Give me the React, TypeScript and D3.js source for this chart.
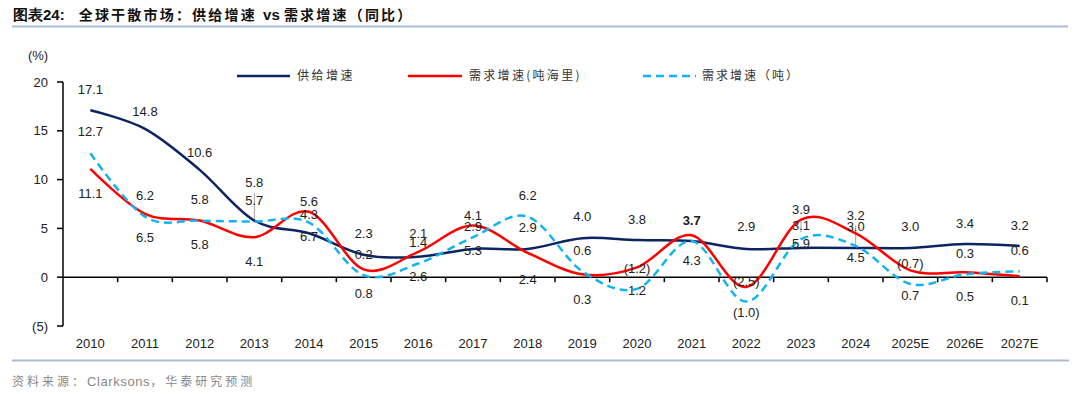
import React from "react";
import * as d3 from "d3";

const categories = ["2010","2011","2012","2013","2014","2015","2016","2017","2018","2019","2020","2021","2022","2023","2024","2025E","2026E","2027E"];
const supply = [17.1, 15.2, 11.0, 5.8, 4.5, 2.3, 2.1, 2.9, 2.9, 4.0, 3.8, 3.7, 2.9, 3.0, 3.0, 3.0, 3.4, 3.2];
const demandTonMile = [11.1, 6.5, 5.8, 4.1, 6.7, 0.8, 2.6, 5.3, 2.5, 0.3, 1.0, 4.3, -1.0, 5.9, 4.5, 0.7, 0.5, 0.1];
const demandTon = [12.7, 6.2, 5.8, 5.7, 5.6, 0.2, 1.4, 4.1, 6.2, 0.6, -1.2, 3.7, -2.5, 3.9, 3.2, -0.7, 0.3, 0.6];
const yTicks = [-5, 0, 5, 10, 15, 20];
const yTickLabels = ["(5)", "0", "5", "10", "15", "20"];
const seriesNames = ["供给增速", "需求增速(吨海里)", "需求增速（吨）"];

// data labels: [category index, text, anchor value (in % units), bold]
const labelCat = [0,1,0,2,0,1,2,3,3,4,4,1,2,3,4,5,5,5,6,6,6,7,7,7,8,8,8,9,9,9,10,10,10,11,11,12,12,12,13,13,13,14,14,14,15,15,15,16,16,16,17,17,17];
const labelText = ["17.1","14.8","12.7","10.6","11.1","6.2","5.8","5.8","5.7","5.6","4.3","6.5","5.8","4.1","6.7","2.3","0.2","0.8","2.1","1.4","2.6","4.1","2.9","5.3","6.2","2.9","2.4","4.0","0.6","0.3","3.8","(1.2)","1.2","3.7","4.3","2.9","(2.5)","(1.0)","3.9","3.1","5.9","3.2","3.0","4.5","3.0","(0.7)","0.7","3.4","0.3","0.5","3.2","0.6","0.1"];
const labelAt = [19.26,17.0,14.9,12.74,8.57,8.33,7.96,9.66,7.82,7.72,6.42,4.03,3.38,1.57,4.13,4.48,2.36,-1.67,4.48,3.56,0.03,6.28,5.15,2.77,8.33,5.09,-0.2,6.18,2.77,-2.25,5.94,0.89,-1.4,5.84,1.67,5.15,-0.48,-3.62,6.94,5.33,3.45,6.35,5.15,2.02,5.23,1.4,-1.84,5.5,2.43,-2.0,5.33,2.77,-2.36];
const boldLabels = ["11|3.7"];
// leader lines: [category index, from value, to value]
const leaderCat = [3, 13, 14];
const leaderFrom = [8.6, 5.7, 5.3];
const leaderTo = [5.8, 4.6, 3.2];

const W = 1080, H = 394;
const NAVY = "#0c2461";
const RED = "#ff0000";
const CYAN = "#12b4f0";
const SANS = "'Liberation Sans', Arial, sans-serif";
const CJK = "'Noto Sans CJK SC', sans-serif";

export default function App() {
  const x = d3.scaleBand<string>().domain(categories).range([63, 1047]).paddingInner(0).paddingOuter(0);
  const y = d3.scaleLinear().domain([-5, 20]).range([326, 82]);
  const cx = (i: number) => (x(categories[i]) as number) + x.bandwidth() / 2;
  const line = d3.line<number>().x((_, i) => cx(i)).y((d) => y(d)).curve(d3.curveCardinal.tension(0));
  const y0 = y(0);
  const boundaries = categories.map((c) => (x(c) as number) + x.bandwidth());

  return (
    <svg width={W} height={H} style={{ position: "absolute", left: 0, top: 0, background: "#fff" }}>
      <text x={13} y={20} fontFamily={CJK} fontWeight={700} fontSize={14} fill="#111" letterSpacing={1}>
        <tspan fontFamily={SANS} fontSize={15} letterSpacing={0}>图表24:</tspan>
        <tspan dx={14} letterSpacing={2.2}>全球干散市场：供给增速</tspan>
        <tspan fontFamily={SANS} fontSize={15} dx={2} letterSpacing={0}> vs </tspan>
        <tspan letterSpacing={2.2}>需求增速（同比）</tspan>
      </text>
      <line x1={12} x2={1068} y1={26.5} y2={26.5} stroke="#a9bcd3" strokeWidth={2} />

      <text x={38} y={60} textAnchor="middle" fontFamily={SANS} fontSize={13} fill="#222">(%)</text>

      {/* y axis */}
      <line x1={63} x2={63} y1={y(20)} y2={y(-5)} stroke="#000" strokeWidth={1.5} />
      {yTicks.map((t, i) => (
        <g key={t}>
          <line x1={57} x2={63} y1={y(t)} y2={y(t)} stroke="#000" strokeWidth={1.5} />
          <text x={48} y={y(t)} dy="0.35em" textAnchor="end" fontFamily={SANS} fontSize={13} fill="#222">{yTickLabels[i]}</text>
        </g>
      ))}

      {/* x axis */}
      <line x1={63} x2={1047} y1={y0} y2={y0} stroke="#000" strokeWidth={1.5} />
      {boundaries.map((b, i) => (
        <line key={i} x1={b} x2={b} y1={y0} y2={y0 + 5} stroke="#000" strokeWidth={1.5} />
      ))}
      {categories.map((c, i) => (
        <text key={c} x={cx(i)} y={343} dy="0.35em" textAnchor="middle" fontFamily={SANS} fontSize={13} fill="#222">{c}</text>
      ))}

      {/* leader lines */}
      {leaderCat.map((c, i) => (
        <line key={i} x1={cx(c)} x2={cx(c)} y1={y(leaderFrom[i])} y2={y(leaderTo[i])} stroke="#a0a0a0" strokeWidth={1} />
      ))}

      {/* series */}
      <path d={line(supply) || ""} fill="none" stroke={NAVY} strokeWidth={2.5} />
      <path d={line(demandTonMile) || ""} fill="none" stroke={RED} strokeWidth={2.5} />
      <path d={line(demandTon) || ""} fill="none" stroke={CYAN} strokeWidth={2.5} strokeDasharray="8,5" />

      {/* data labels */}
      {labelText.map((t, i) => (
        <text key={i} x={cx(labelCat[i])} y={y(labelAt[i])} dy="0.35em" textAnchor="middle" fontFamily={SANS} fontSize={13}
          fontWeight={boldLabels.includes(`${labelCat[i]}|${t}`) ? 700 : 400} fill="#222">{t}</text>
      ))}

      {/* legend */}
      <line x1={237} x2={290} y1={76} y2={76} stroke={NAVY} strokeWidth={2.5} />
      <text x={297} y={76} dy="0.35em" fontFamily={CJK} fontSize={12} fill="#333" letterSpacing={2.5}>{seriesNames[0]}</text>
      <line x1={408} x2={462} y1={76} y2={76} stroke={RED} strokeWidth={2.5} />
      <text x={469} y={76} dy="0.35em" fontFamily={CJK} fontSize={12} fill="#333" letterSpacing={2.3}>{seriesNames[1]}</text>
      <line x1={643} x2={696} y1={76} y2={76} stroke={CYAN} strokeWidth={2.5} strokeDasharray="8,5" />
      <text x={702} y={76} dy="0.35em" fontFamily={CJK} fontSize={12} fill="#333" letterSpacing={2}>{seriesNames[2]}</text>

      <line x1={12} x2={1069} y1={360.5} y2={360.5} stroke="#a9bcd3" strokeWidth={2} />
      <text x={12} y={382} dy="0.35em" fontFamily={CJK} fontSize={12} fill="#888" letterSpacing={3}>
        资料来源：<tspan fontFamily={SANS} fontSize={13} letterSpacing={0.6}>Clarksons</tspan>，华泰研究预测
      </text>
    </svg>
  );
}
